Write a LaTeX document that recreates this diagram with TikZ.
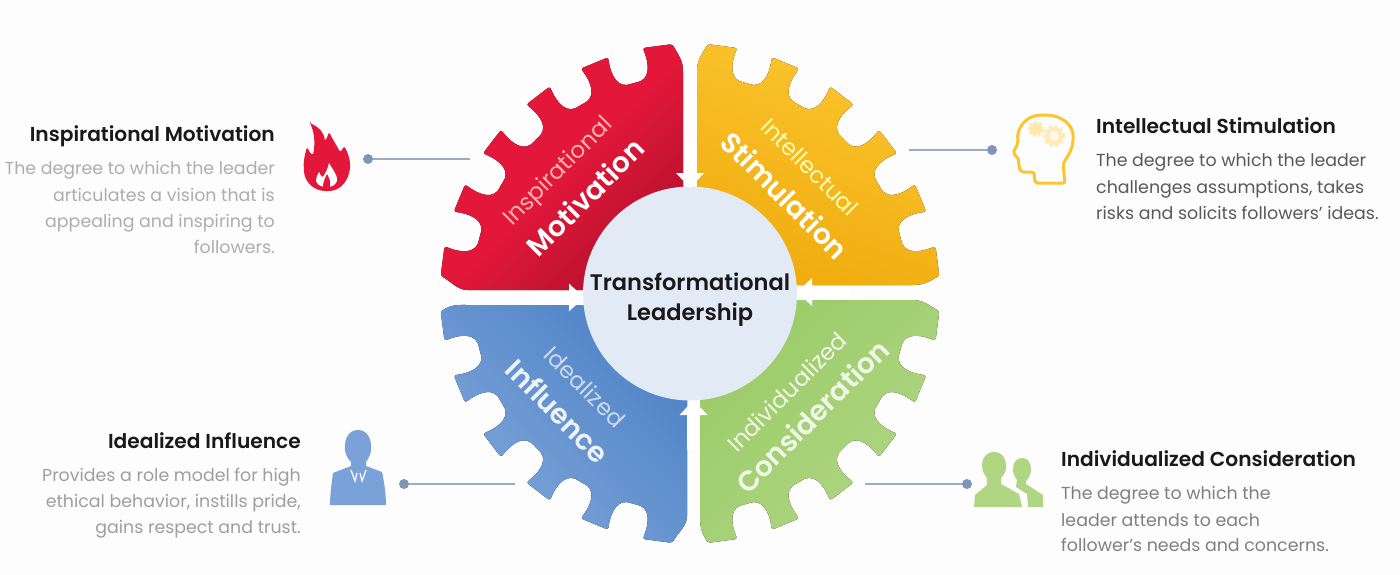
\documentclass[tikz,border=0pt]{standalone}
\usepackage{fontspec}
\setmainfont{Poppins}[BoldFont={Poppins SemiBold}]
\usetikzlibrary{arrows.meta}
\definecolor{bgc}{HTML}{FDFDFD}
\definecolor{hubc}{HTML}{E2EAF6}
\definecolor{linec}{HTML}{9AABC4}
\definecolor{dotc}{HTML}{7F95B6}
\definecolor{redA}{HTML}{E3173A}\definecolor{redB}{HTML}{B5112E}
\definecolor{yelA}{HTML}{FCC52F}\definecolor{yelB}{HTML}{EFAC0E}
\definecolor{grnA}{HTML}{9BCB68}\definecolor{grnB}{HTML}{B0D684}
\definecolor{bluA}{HTML}{4E82C6}\definecolor{bluB}{HTML}{7FA6DA}
\tikzset{
  title/.style={font=\bfseries\fontsize{20.2}{22}\selectfont,text=black!90,inner sep=0pt},
  body/.style={font=\fontsize{17.4}{20}\selectfont,inner sep=0pt},
  hubtext/.style={font=\bfseries\fontsize{22.5}{24}\selectfont,text=black!90,inner sep=0pt,anchor=base},
  thin label/.style={font=\fontsize{23}{24}\selectfont,inner sep=0pt},
  bold label/.style={font=\bfseries\fontsize{28}{30}\selectfont,inner sep=0pt},
  leader/.style={line width=2.4pt,draw=linec},
  leaderdot/.style={circle,fill=dotc,minimum size=10pt,inner sep=0pt},
  gaparrow/.style={draw=white,line width=13pt,-{Triangle[length=15pt,width=27pt,fill=white]}},
}
% quadrant of gear in local axes: x out, y out; #1 #2 = gaps from axes
\newcommand{\gearpath}[2]{(#1,#2) -- (220,#2) .. controls (232,#2) and (2.6:238) .. (4.1:250) -- (10.9:250)
  \foreach \t in {7.5,22.5,37.5,52.5,67.5}{
    .. controls ({\t+2.4}:230) and ({\t+3.3}:217) .. ({\t+7.5}:218)
    .. controls ({\t+11.7}:217) and ({\t+12.6}:230) .. ({\t+11.6}:250)
    -- ({\t+18.4}:250)
  }
  .. controls (87.4:238) and (#1,232) .. (#1,220) -- cycle}
\begin{document}
\begin{tikzpicture}[x=1pt,y=-1pt]
\useasboundingbox[fill=bgc] (0,0) rectangle (1400,574);
% gears
\begin{scope}[shift={(690,293.5)},xscale=-1,yscale=-1]
  \fill[rounded corners=2.5pt,shade,top color=redA,bottom color=redB,middle color=redA,shading angle=45] \gearpath{7}{3.5};
\end{scope}
\begin{scope}[shift={(690,293.5)},xscale=1,yscale=-1]
  \fill[rounded corners=2.5pt,shade,top color=yelA,bottom color=yelB,shading angle=-20] \gearpath{7}{8.5};
\end{scope}
\begin{scope}[shift={(690,293.5)},xscale=1,yscale=1]
  \fill[rounded corners=2.5pt,shade,top color=grnA,bottom color=grnB,shading angle=45] \gearpath{10}{6.5};
\end{scope}
\begin{scope}[shift={(690,293.5)},xscale=-1,yscale=1]
  \fill[rounded corners=2.5pt,shade,top color=bluA,bottom color=bluB,shading angle=-45] \gearpath{3}{11.5};
\end{scope}
% hub
\node[circle,fill=hubc,minimum size=214pt,inner sep=0pt] (hub) at (690,293.5) {};
\node[hubtext] (hubA) at (690,290) {Transformational};
\node[hubtext] (hubB) at (690,320) {Leadership};
% gap arrows
\coordinate (atop) at (690,140);
\coordinate (aright) at (850,292);
\coordinate (abottom) at (693.5,450);
\coordinate (aleft) at (530,297.5);
\draw[gaparrow] (atop) -- (690,188);
\draw[gaparrow] (aright) -- (797,292);
\draw[gaparrow] (abottom) -- (693.5,400);
\draw[gaparrow] (aleft) -- (584,297.5);
% gear labels
\node[thin label,text=red!30!white,rotate=45] (l1a) at (559,172) {Inspirational};
\node[bold label,text=white,rotate=45] (l1b) at (585,197) {Motivation};
\node[thin label,text=yellow!30!white,rotate=-45] (l2a) at (810,167) {Intellectual};
\node[bold label,text=white,rotate=-45] (l2b) at (785,195) {Stimulation};
\node[thin label,text=white!85!grnA,rotate=45] (l3a) at (787,392) {Individualized};
\node[bold label,text=white!85!grnA,rotate=45] (l3b) at (812,416) {Consideration};
\node[thin label,text=white!70!bluA,rotate=-45] (l4a) at (585,387) {Idealized};
\node[bold label,text=white!90!bluA,rotate=-45] (l4b) at (558,411) {Influence};
% leaders
\node[leaderdot] (d1) at (368,159) {};
\coordinate (e1) at (470,159);
\draw[leader] (d1) -- (e1);
\node[leaderdot] (d2) at (992,150) {};
\coordinate (e2) at (909,150);
\draw[leader] (d2) -- (e2);
\node[leaderdot] (d3) at (404,484) {};
\coordinate (e3) at (515,484);
\draw[leader] (d3) -- (e3);
\node[leaderdot] (d4) at (967,484) {};
\coordinate (e4) at (865,484);
\draw[leader] (d4) -- (e4);
% texts
\node[title,anchor=base east] (t1) at (275,141) {Inspirational Motivation};
\node[body,text=black!32,anchor=base east] (t1a) at (275,174) {The degree to which the leader};
\node[body,text=black!32,anchor=base east] (t1b) at (275,201) {articulates a vision that is};
\node[body,text=black!32,anchor=base east] (t1c) at (275,227) {appealing and inspiring to};
\node[body,text=black!32,anchor=base east] (t1d) at (275,253) {followers.};
\node[title,anchor=base west] (t2) at (1096,133) {Intellectual Stimulation};
\node[body,text=black!65,anchor=base west] (t2a) at (1096,166) {The degree to which the leader};
\node[body,text=black!65,anchor=base west] (t2b) at (1096,193) {challenges assumptions, takes};
\node[body,text=black!65,anchor=base west] (t2c) at (1096,219) {risks and solicits followers' ideas.};
\node[title,anchor=base east] (t3) at (301,448) {Idealized Influence};
\node[body,text=black!38,anchor=base east] (t3a) at (301,481) {Provides a role model for high};
\node[body,text=black!38,anchor=base east] (t3b) at (301,507) {ethical behavior, instills pride,};
\node[body,text=black!38,anchor=base east] (t3c) at (301,533) {gains respect and trust.};
\node[title,anchor=base west] (t4) at (1061,466) {Individualized Consideration};
\node[body,text=black!50,anchor=base west] (t4a) at (1061,499) {The degree to which the};
\node[body,text=black!50,anchor=base west] (t4b) at (1061,526) {leader attends to each};
\node[body,text=black!50,anchor=base west] (t4c) at (1061,551) {follower's needs and concerns.};
% flame icon
\fill[redA,rounded corners=1.5pt] (310,123) .. controls (320,128) and (324,133) .. (325,141) .. controls (327,138) and (328,135) .. (329,132)
  .. controls (333,140) and (337,146) .. (340,152) .. controls (342,150) and (343,149) .. (344,146)
  .. controls (350,156) and (351,166) .. (349,173) .. controls (346,184) and (338,191) .. (327,191)
  .. controls (314,191) and (305,182) .. (304,171) .. controls (303,162) and (305,154) .. (307,147)
  .. controls (309,151) and (310,153) .. (313,155) .. controls (315,145) and (315,134) .. (310,123) -- cycle;
\fill[white] (329,163) .. controls (333,170) and (338,176) .. (337,181) .. controls (335,186) and (331,187) .. (327,187)
  .. controls (322,187) and (318,186) .. (316,181) .. controls (316,178) and (317,175) .. (319,172) .. controls (320,175) and (321,176) .. (323,177)
  .. controls (326,172) and (328,168) .. (329,163) -- cycle;
\fill[redA] (327,174) .. controls (329,178) and (331,181) .. (330,187) -- (323,187) .. controls (323,182) and (325,178) .. (327,174) -- cycle;
% head icon
\draw[yelA,line width=3pt,line join=round,rounded corners=2pt] (1035,183) -- (1034,172) -- (1021,172) .. controls (1018,165) and (1019,160) .. (1017,157) -- (1013,153)
  -- (1018,143) .. controls (1016,126) and (1028,115) .. (1043,115) .. controls (1062,115) and (1074,125) .. (1073,140)
  .. controls (1072,150) and (1068,156) .. (1063,164) -- (1065,183) -- cycle;
\fill[yelA!40!white] (1036,129) circle (6pt);
\draw[yelA!40!white,line width=2pt,dash pattern=on 2.5pt off 2.5pt] (1036,129) circle (7pt);
\fill[yelA!35!white] (1054,136) circle (9pt);
\draw[yelA!35!white,line width=2.5pt,dash pattern=on 3pt off 3pt] (1054,136) circle (10pt);
\fill[yelA!12!white] (1054,136) circle (5pt);
% businessman icon
\fill[bluB!90!bluA] (358,430) .. controls (367,430) and (371,438) .. (371,446) .. controls (372,452) and (369,458) .. (366,462) -- (366,466) -- (382,472) .. controls (384,480) and (386,495) .. (386,505)
  -- (330,505) .. controls (330,495) and (332,480) .. (333,473) -- (351,466) -- (351,462) .. controls (347,458) and (344,452) .. (345,446) .. controls (345,438) and (349,430) .. (358,430) -- cycle;
\draw[white,line width=1.2pt] (351,470) -- (355,481) -- (357,473);
\draw[white,line width=1.2pt] (366,470) -- (362,481) -- (360,473);
% people icon
\fill[grnB] (1022,458) .. controls (1028,458) and (1031,463) .. (1031,469) .. controls (1031,474) and (1029,478) .. (1026,481) -- (1026,484) -- (1043,495) -- (1043,507) -- (1028,507) -- (1027,494) -- (1016,487) -- (1017,480) .. controls (1014,476) and (1013,473) .. (1013,469) .. controls (1013,463) and (1016,458) .. (1022,458) -- cycle;
\fill[grnB] (994,452) .. controls (1002,452) and (1006,458) .. (1006,465) .. controls (1007,470) and (1004,475) .. (1001,478) -- (1001,484) -- (1019,494) -- (1022,507) -- (974,507) -- (975,495) -- (987,485) -- (987,478) .. controls (984,475) and (982,470) .. (982,465) .. controls (982,458) and (986,452) .. (994,452) -- cycle;
\end{tikzpicture}
\end{document}
